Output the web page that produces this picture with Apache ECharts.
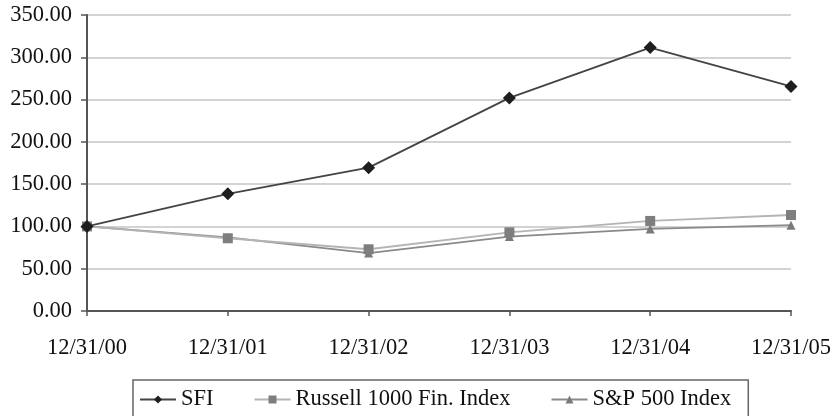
<!DOCTYPE html>
<html>
<head>
<meta charset="utf-8">
<script src="https://cdn.jsdelivr.net/npm/echarts@6/dist/echarts.min.js"></script>
<style>
html,body{margin:0;padding:0;background:#fff;}
#chart{width:834px;height:416px;}
</style>
</head>
<body>
<div id="chart"></div>
<script>
const categories = ['12/31/00', '12/31/01', '12/31/02', '12/31/03', '12/31/04', '12/31/05'];
const sfi = [100, 138.5, 169.5, 252, 311.5, 265.5];
const russell = [100, 86, 73, 93, 106.5, 113.5];
const sp500 = [100, 87, 68.5, 88, 97, 101.5];
const seriesNames = ['SFI', 'Russell 1000 Fin. Index', 'S&P 500 Index'];

const font = 'Liberation Serif, Times New Roman, serif';
const chart = echarts.init(document.getElementById('chart'), null, {renderer: 'canvas'});
chart.setOption({
  backgroundColor: '#fff',
  animation: false,
  grid: {left: 87, right: 42, top: 15, bottom: 105, containLabel: false},
  xAxis: {
    type: 'category',
    data: categories,
    boundaryGap: false,
    axisLine: {lineStyle: {color: '#555', width: 2}},
    axisTick: {show: true, length: 5, lineStyle: {color: '#555', width: 1.5}},
    axisLabel: {color: '#111', fontFamily: font, fontSize: 22.5, margin: 26}
  },
  yAxis: {
    type: 'value',
    min: 0, max: 350, interval: 50,
    axisLine: {show: true, lineStyle: {color: '#555', width: 2}},
    axisTick: {show: true, length: 6, lineStyle: {color: '#555', width: 1.5}},
    axisLabel: {color: '#111', fontFamily: font, fontSize: 22.5, margin: 15,
      formatter: v => v.toFixed(2)},
    splitLine: {show: true, lineStyle: {color: '#c4c4c4', width: 1.5}}
  },
  legend: {
    left: 133, top: 380,
    padding: [8, 17, 12, 6],
    itemGap: 40, itemWidth: 36, itemHeight: 10,
    borderColor: '#666', borderWidth: 1.5,
    textStyle: {color: '#111', fontFamily: font, fontSize: 22.5},
    data: seriesNames
  },
  series: [
    {name: seriesNames[0], type: 'line', data: sfi, symbol: 'diamond', symbolSize: 13,
      lineStyle: {color: '#444', width: 1.8}, itemStyle: {color: '#1e1e1e'}, z: 3},
    {name: seriesNames[1], type: 'line', data: russell, symbol: 'rect', symbolSize: 10,
      lineStyle: {color: '#b4b4b4', width: 1.8}, itemStyle: {color: '#7e7e7e'}, z: 2},
    {name: seriesNames[2], type: 'line', data: sp500, symbol: 'triangle', symbolSize: 9,
      lineStyle: {color: '#8a8a8a', width: 1.8}, itemStyle: {color: '#7a7a7a'}, z: 1}
  ]
});
</script>
</body>
</html>
